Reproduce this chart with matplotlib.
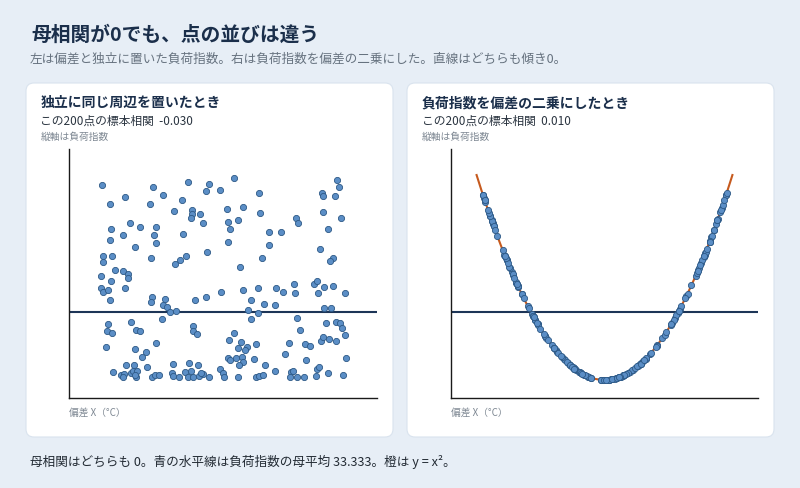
import numpy as np
import matplotlib
matplotlib.use("Agg")
import matplotlib.pyplot as plt
from matplotlib.patches import FancyBboxPatch

# deviation X (°C); same X used in both panels
deviation = [
    -9.43, -5.43, -2.70, -1.09, -7.66, -4.65, -1.30, -8.81, -5.69, -3.20,
    -3.82, -2.42, -2.42, -2.47, -1.82, -1.58, -7.25, -6.47, -5.22, -8.75,
    -7.77, -5.40, -3.09, -8.83, -5.22, -6.84, -1.25, -9.33, -8.67, -9.38,
    -5.59, -2.88, -3.35, -3.72,
    0.86, -0.26, 2.83, 8.86, 9.04, 7.74, 7.82, 8.73, 0.31, 1.56,
    2.88, 7.77, 0.37, 1.15, 0.55, 5.71, 5.87, 9.17, 3.56, 4.50,
    8.21, 0.37, 3.61, 7.54, 3.04, 8.55, 8.34, 1.30,
    -9.49, -8.39, -7.82, -7.38, -7.43, -8.71, -9.49, -9.38, -8.94, -7.66,
    -8.81, -5.53, -5.59, -4.54, -4.65, -4.39, -4.13, -3.64, -2.21, -1.35,
    -8.94, -9.02, -8.67, -7.15, -6.78, -6.47, -4.75, -2.31, -2.36, -2.03,
    -9.12, -5.20, -6.88, -6.00, -6.31, -7.54, -6.91, -5.92, -3.92, -2.67,
    -1.95, -8.55, -7.97, -7.72, -7.77, -7.19, -7.04, -6.73, -6.78, -6.84,
    -5.53, -5.28, -5.01, -3.98, -3.92, -3.41, -2.94, -2.73, -2.52, -2.36,
    -1.85, -1.54, -1.09,
    -0.13, 1.56, 2.70, 4.11, 4.70, 5.51, 5.61, 7.12, 7.33, 7.40,
    7.87, 8.55, 9.51, 2.21, 3.22, 4.08, 1.97, 2.75, 2.16, 7.90,
    8.39, 5.79, 8.00, 8.83, 9.10, 9.25, 9.49, 6.00, 0.83, 0.49,
    1.43, 2.60, 5.17, 6.41, 6.80, 7.66, 7.79, 8.24, 8.83, 1.15,
    1.87, 1.71, 0.39, 0.55, 0.99, 1.48, 1.56, 1.22, 2.42, 4.83,
    6.49, 9.56, 3.25, -0.26, -0.02, 0.08, 1.17, 2.57, 2.83, 3.09,
    4.03, 5.28, 5.43, 5.22, 5.79, 6.31, 7.23, 7.30, 7.48, 8.21,
    9.38, -1.74,
]

# left panel: load index placed independently of X
load_indep = [
    95.3, 94.1, 96.4, 95.6, 89.4, 90.1, 92.2, 86.0, 85.9, 87.7,
    82.4, 82.8, 80.8, 78.9, 81.0, 76.4, 76.4, 74.8, 74.6, 73.8,
    70.9, 70.9, 71.2, 68.4, 66.7, 65.0, 62.4, 60.5, 60.5, 57.6,
    59.4, 60.5, 58.5, 56.6,
    98.7, 92.8, 91.4, 97.4, 94.0, 91.1, 89.9, 89.8, 83.6, 84.2,
    81.3, 82.1, 77.1, 77.9, 73.5, 78.9, 76.6, 79.2, 72.3, 72.3,
    73.7, 67.5, 65.7, 63.9, 59.7, 59.4, 58.2, 55.0,
    50.7, 53.7, 53.3, 51.7, 49.6, 48.4, 44.7, 43.1, 43.9, 45.0,
    38.9, 40.5, 38.2, 39.4, 36.4, 35.8, 33.0, 33.7, 38.9, 40.6,
    27.3, 23.9, 23.1, 28.4, 24.2, 23.9, 29.9, 26.3, 23.9, 22.4,
    16.2, 18.2, 15.1, 13.7, 11.4, 7.5, 7.2, 6.5, 8.0, 8.1,
    7.5, 3.9, 2.3, 2.8, 1.3, 3.3, 4.4, 4.4, 1.6, 2.6,
    1.3, 2.3, 2.6, 3.3, 2.0, 1.3, 3.9, 1.6, 4.2, 1.6,
    2.0, 2.8, 1.6,
    43.1, 43.8, 45.0, 45.0, 43.1, 47.0, 42.4, 46.8, 48.3, 42.4,
    45.5, 45.9, 42.4, 39.2, 37.1, 36.4, 34.3, 32.7, 29.9, 35.1,
    35.1, 30.4, 27.7, 28.4, 27.7, 25.2, 22.1, 24.4, 22.8, 19.4,
    18.5, 17.6, 17.9, 17.6, 16.6, 19.2, 20.8, 20.1, 19.2, 15.6,
    16.2, 14.6, 10.6, 9.8, 10.6, 11.4, 8.9, 7.5, 10.1, 12.7,
    9.9, 10.7, 7.2, 5.2, 3.3, 1.5, 1.3, 1.6, 2.0, 2.3,
    4.2, 3.9, 4.4, 1.5, 1.6, 1.5, 2.0, 5.2, 6.2, 3.4,
    2.3, 3.2,
]

pop_mean = 33.333
corr_labels = ["-0.030", "0.010"]
panel_titles = ["独立に同じ周辺を置いたとき", "負荷指数を偏差の二乗にしたとき"]

BG = "#e7eef6"
NAVY = "#1b2f4b"
GRAY = "#66727f"
PT_FACE = "#5b8ec6"
PT_EDGE = "#2d5986"
ORANGE = "#c65a1e"
HLINE = "#1d3557"

plt.rcParams["font.family"] = ["Noto Sans CJK JP", "DejaVu Sans"]

fig = plt.figure(figsize=(8, 4.88), dpi=100, facecolor=BG)

# pixel-space overlay for cards and text
bg = fig.add_axes([0, 0, 1, 1])
bg.set_xlim(0, 800)
bg.set_ylim(488, 0)
bg.axis("off")
bg.set_zorder(0)

bg.text(31, 35, "母相関が0でも、点の並びは違う", fontsize=14.2, fontweight="bold",
        color=NAVY, va="center", ha="left")
bg.text(30, 59, "左は偏差と独立に置いた負荷指数。右は負荷指数を偏差の二乗にした。直線はどちらも傾き0。",
        fontsize=9.1, color=GRAY, va="center", ha="left")
bg.text(30, 462, "母相関はどちらも 0。青の水平線は負荷指数の母平均 33.333。橙は y = x²。",
        fontsize=9.1, color="#222a33", va="center", ha="left")

card_x = [26, 407]
axes_x = [69, 451]
for i in range(2):
    cx = card_x[i]
    card = FancyBboxPatch((cx, 83), 367, 354, boxstyle="round,pad=0,rounding_size=8",
                          facecolor="white", edgecolor="#d9e3ee", linewidth=0.8)
    bg.add_patch(card)
    tx = cx + 14.5
    bg.text(tx, 103, panel_titles[i], fontsize=10, fontweight="bold", color=NAVY,
            va="center", ha="left")
    bg.text(tx, 121, "この200点の標本相関  " + corr_labels[i], fontsize=8.5,
            color="#2a3440", va="center", ha="left")
    bg.text(tx, 137, "縦軸は負荷指数", fontsize=7, color="#7d8792",
            va="center", ha="left")
    bg.text(axes_x[i], 413, "偏差 X（°C）", fontsize=7, color="#7d8792",
            va="center", ha="left")


def px_rect(x0, y0, x1, y1):
    return [x0 / 800, 1 - y1 / 488, (x1 - x0) / 800, (y1 - y0) / 488]


ax_l = fig.add_axes(px_rect(69, 149, 377, 398))
ax_r = fig.add_axes(px_rect(451, 149, 758, 398))

dev = np.array(deviation)
curve_x = np.linspace(-10, 10, 201)

for ax in (ax_l, ax_r):
    ax.set_zorder(1)
    ax.patch.set_alpha(0)
    ax.set_xlim(-12, 12)
    ax.set_ylim(-8.8, 112.7)
    ax.set_xticks([])
    ax.set_yticks([])
    for s in ("top", "right"):
        ax.spines[s].set_visible(False)
    for s in ("left", "bottom"):
        ax.spines[s].set_color("#1a1a1a")
        ax.spines[s].set_linewidth(1.0)
    ax.axhline(pop_mean, color=HLINE, lw=1.5, zorder=2)

ax_l.scatter(dev, load_indep, s=20, facecolor=PT_FACE, edgecolor=PT_EDGE,
             linewidth=0.6, zorder=3)

ax_r.plot(curve_x, curve_x ** 2, color=ORANGE, lw=1.5, zorder=2)
ax_r.scatter(dev, dev ** 2, s=20, facecolor=PT_FACE, edgecolor=PT_EDGE,
             linewidth=0.6, zorder=3)

fig.savefig("out.png", dpi=100, facecolor=fig.get_facecolor())
